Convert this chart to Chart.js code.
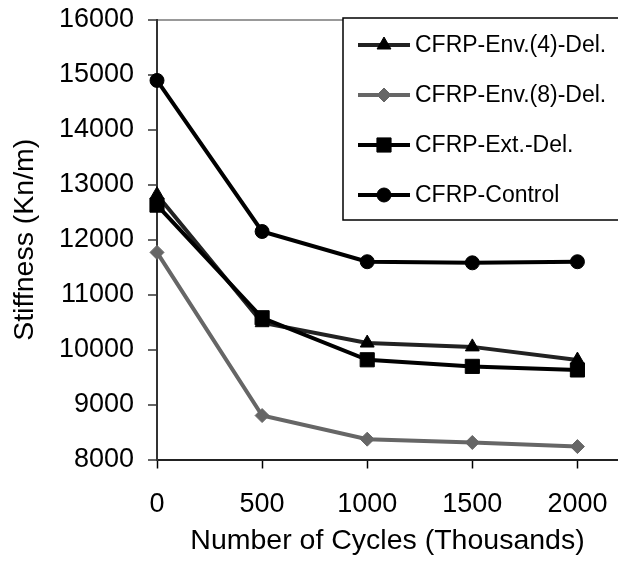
<!DOCTYPE html>
<html>
<head>
<meta charset="utf-8">
<script src="https://cdn.jsdelivr.net/npm/chart.js@4.4.0/dist/chart.umd.min.js"></script>
<style>
html, body { margin: 0; padding: 0; background: #fff; }
canvas { display: block; }
</style>
</head>
<body>
<canvas id="stiffChart" width="618" height="561"></canvas>
<script>
// values
var cycles = [0, 500, 1000, 1500, 2000];
var env4Del = [12820, 10490, 10120, 10050, 9810];
var env8Del = [11770, 8800, 8370, 8310, 8235];
var extDel = [12630, 10580, 9815, 9695, 9630];
var control = [14900, 12150, 11600, 11580, 11600];
var seriesNames = ['CFRP-Env.(4)-Del.', 'CFRP-Env.(8)-Del.', 'CFRP-Ext.-Del.', 'CFRP-Control'];
var xTicks = [0, 500, 1000, 1500, 2000];
var yTicks = [8000, 9000, 10000, 11000, 12000, 13000, 14000, 15000, 16000];

var FONT = 'Arial, "Liberation Sans", sans-serif';

function toPoints(vals) {
    return vals.map(function (v, i) { return { x: cycles[i], y: v }; });
}

// legend box sitting inside the plot, top right
var boxLegend = {
    id: 'boxLegend',
    afterDraw: function (chart) {
        var ctx = chart.ctx;
        var left = 343, top = 18, bottom = 220;
        ctx.save();
        ctx.fillStyle = '#fff';
        ctx.fillRect(left, top, 300, bottom - top);
        ctx.strokeStyle = '#000';
        ctx.lineWidth = 1.5;
        ctx.strokeRect(left, top, 300, bottom - top);
        chart.data.datasets.forEach(function (ds, i) {
            var y = 45 + i * 50;
            ctx.strokeStyle = ds.borderColor;
            ctx.lineWidth = ds.borderWidth;
            ctx.beginPath();
            ctx.moveTo(358, y);
            ctx.lineTo(410, y);
            ctx.stroke();
            ctx.fillStyle = ds.pointBackgroundColor;
            ctx.strokeStyle = ds.pointBorderColor;
            ctx.lineWidth = 1;
            Chart.helpers.drawPoint(ctx, { pointStyle: ds.pointStyle, radius: ds.pointRadius, borderWidth: 1, rotation: 0 }, 384, y);
            ctx.fillStyle = '#000';
            ctx.font = '23px ' + FONT;
            ctx.textBaseline = 'middle';
            ctx.textAlign = 'left';
            ctx.fillText(ds.label, 415, y + 1);
        });
        ctx.restore();
    }
};

function series(label, vals, color, style, radius, order) {
    var mark = color === '#666' ? '#666' : '#000';
    return {
        label: label,
        data: toPoints(vals),
        borderColor: color,
        borderWidth: 4,
        pointStyle: style,
        pointRadius: radius,
        pointBackgroundColor: mark,
        pointBorderColor: mark,
        pointBorderWidth: 1,
        tension: 0,
        clip: false,
        order: order
    };
}

function fixedTicks(list) {
    return function (s) { s.ticks = list.map(function (v) { return { value: v }; }); };
}

var ctx = document.getElementById('stiffChart').getContext('2d');
var chart = new Chart(ctx, {
    type: 'line',
    data: {
        datasets: [
            series(seriesNames[0], env4Del, '#222', 'triangle', 8, 4),
            series(seriesNames[1], env8Del, '#666', 'rectRot', 7, 3),
            series(seriesNames[2], extDel, '#000', 'rect', 10, 2),
            series(seriesNames[3], control, '#000', 'circle', 7, 1)
        ]
    },
    options: {
        responsive: false,
        devicePixelRatio: 1,
        animation: false,
        layout: { autoPadding: false, padding: { top: 20, right: 0, bottom: 0, left: 0 } },
        plugins: {
            legend: { display: false },
            tooltip: { enabled: false }
        },
        scales: {
            x: {
                type: 'linear',
                min: 0,
                max: 2193,
                afterBuildTicks: fixedTicks(xTicks),
                ticks: { padding: 20, color: '#000', font: { size: 27, family: FONT }, callback: function (v) { return String(v); } },
                grid: { drawOnChartArea: false, tickLength: 9, tickColor: '#000', tickWidth: 1.5 },
                border: { color: '#222', width: 2 },
                title: { display: true, text: 'Number of Cycles (Thousands)', color: '#000', font: { size: 28.5, family: FONT }, padding: { top: 4, bottom: 3 } },
                afterFit: function (s) {
                    s.height = 101.5;
                    s.paddingLeft = 0;
                    s.paddingRight = 0;
                }
            },
            y: {
                min: 8000,
                max: 16000,
                afterBuildTicks: fixedTicks(yTicks),
                ticks: { padding: 14, color: '#000', font: { size: 27, family: FONT }, callback: function (v) { return String(v); } },
                grid: {
                    color: function (c) { return c.tick && c.tick.value === 16000 ? '#999' : 'transparent'; },
                    lineWidth: 2,
                    tickLength: 9,
                    tickColor: '#333',
                    tickWidth: 1.5
                },
                border: { color: '#333', width: 2 },
                title: { display: true, text: 'Stiffness (Kn/m)', color: '#000', font: { size: 28.5, family: FONT }, padding: { top: 8, bottom: 0 } },
                afterFit: function (s) {
                    s.width = 157;
                    s.paddingTop = 0;
                    s.paddingBottom = 0;
                }
            }
        }
    },
    plugins: [boxLegend]
});
</script>
</body>
</html>
